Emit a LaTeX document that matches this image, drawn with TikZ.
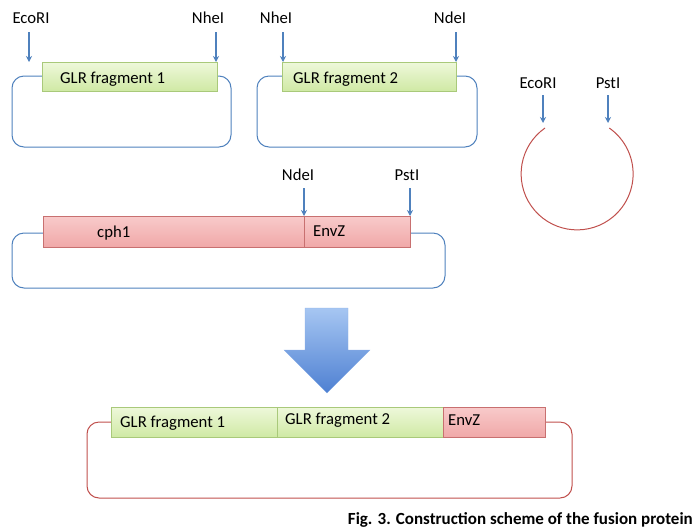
\documentclass[tikz,border=0pt]{standalone}
\usepackage{fontspec}
\setmainfont{Carlito}
\usetikzlibrary{arrows.meta}
\definecolor{lblue}{HTML}{4F81BD}
\definecolor{lred}{HTML}{C0504D}
\definecolor{gtop}{HTML}{EEF8DA}
\definecolor{gbot}{HTML}{CFE9A4}
\definecolor{gbord}{HTML}{A9C97A}
\definecolor{rtop}{HTML}{F8CACA}
\definecolor{rbot}{HTML}{F0A8A8}
\definecolor{rbord}{HTML}{C87070}
\definecolor{atop}{HTML}{A6C6F2}
\definecolor{abot}{HTML}{4E80D2}
\tikzset{
  loopb/.style={draw=lblue, line width=1pt, rounded corners=12pt},
  loopr/.style={draw=lred, line width=1pt, rounded corners=12pt},
  gbox/.style={rectangle, draw=gbord, line width=0.6pt, top color=gtop, bottom color=gbot, anchor=north west, inner sep=0pt},
  rbox/.style={rectangle, draw=rbord, line width=0.6pt, top color=rtop, bottom color=rbot, anchor=north west, inner sep=0pt},
  lab/.style={font=\fontsize{16.7}{19}\selectfont, inner sep=0pt, text=black},
  boxtxt/.style={font=\fontsize{16.7}{19}\selectfont, inner sep=0pt, anchor=west, text=black},
  site/.style={draw=lblue, line width=1.4pt, -{Stealth[length=6pt,width=6pt]}},
}
\begin{document}
\begin{tikzpicture}[x=1pt,y=-1pt]
\useasboundingbox (0,0) rectangle (696,531);
% ---------- top left plasmid ----------
\draw[loopb] (60,76) -- (12,76) -- (12,147) -- (231,147) -- (231,76) -- (200,76);
\node[gbox, minimum width=175pt, minimum height=29pt] (g1) at (42,62) {};
\node[boxtxt] (g1t) at (60,79) {GLR fragment 1};
\node[lab] (e1) at (31,18) {EcoRI};
\node[lab] (n1) at (208,18) {NheI};
\coordinate (e1a) at (29,32); \coordinate (e1b) at (29,62);
\coordinate (n1a) at (216,32); \coordinate (n1b) at (216,62);
\draw[site] (e1a) -- (e1b);
\draw[site] (n1a) -- (n1b);
% ---------- top middle plasmid ----------
\draw[loopb] (300,76) -- (257,76) -- (257,147) -- (477,147) -- (477,76) -- (440,76);
\node[gbox, minimum width=174pt, minimum height=29pt] (g2) at (282,62) {};
\node[boxtxt] (g2t) at (293,79) {GLR fragment 2};
\node[lab] (n2) at (276,18) {NheI};
\node[lab] (d2) at (450,18) {NdeI};
\coordinate (n2a) at (283,32); \coordinate (n2b) at (283,62);
\coordinate (d2a) at (456,32); \coordinate (d2b) at (456,62);
\draw[site] (n2a) -- (n2b);
\draw[site] (d2a) -- (d2b);
% ---------- open vector (circle) ----------
\coordinate (arcstart) at (545,128);
\draw[lred, line width=1pt] (arcstart) arc[start angle=235, end angle=-55, radius=56];
\node[lab] (e3) at (538,83) {EcoRI};
\node[lab] (p3) at (608,83) {PstI};
\coordinate (e3a) at (543,95); \coordinate (e3b) at (543,123);
\coordinate (p3a) at (608,95); \coordinate (p3b) at (608,123);
\draw[site] (e3a) -- (e3b);
\draw[site] (p3a) -- (p3b);
% ---------- middle plasmid ----------
\draw[loopb] (60,233) -- (12,233) -- (12,288) -- (445,288) -- (445,233) -- (400,233);
\node[rbox, minimum width=261pt, minimum height=31pt] (c1) at (43,216) {};
\node[rbox, minimum width=106pt, minimum height=31pt] (z1) at (304,216) {};
\node[boxtxt] (c1t) at (97,233) {cph1};
\node[boxtxt] (z1t) at (313,231) {EnvZ};
\node[lab] (d4) at (298,175) {NdeI};
\node[lab] (p4) at (407,175) {PstI};
\coordinate (d4a) at (304,188); \coordinate (d4b) at (304,216);
\coordinate (p4a) at (410,188); \coordinate (p4b) at (410,216);
\draw[site] (d4a) -- (d4b);
\draw[site] (p4a) -- (p4b);
% ---------- big arrow ----------
\shade[top color=atop, bottom color=abot, draw=atop!70!abot, line width=0.3pt]
  (305,308) -- (348,308) -- (348,350) -- (370,350) -- (327,393) -- (284,350) -- (305,350) -- cycle;
% ---------- fusion plasmid ----------
\draw[loopr] (130,422) -- (87,422) -- (87,498) -- (572,498) -- (572,422) -- (530,422);
\node[gbox, minimum width=166pt, minimum height=30pt] (g5) at (111,407) {};
\node[gbox, minimum width=166pt, minimum height=30pt] (g6) at (277,407) {};
\node[rbox, minimum width=102pt, minimum height=30pt] (z5) at (443,407) {};
\node[boxtxt] (g5t) at (120,423) {GLR fragment 1};
\node[boxtxt] (g6t) at (285,420) {GLR fragment 2};
\node[boxtxt] (z5t) at (448,420) {EnvZ};
% ---------- caption ----------
\node[font=\fontsize{17}{19}\selectfont\bfseries, inner sep=0pt, anchor=base east] (cap) at (693,524) {Fig. 3. Construction scheme of the fusion protein};
\end{tikzpicture}
\end{document}
